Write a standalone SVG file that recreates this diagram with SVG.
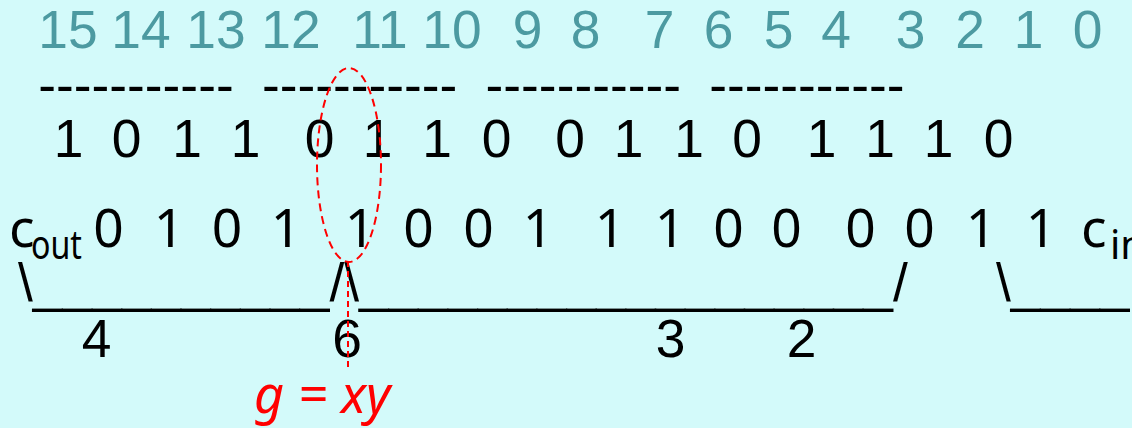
<svg xmlns="http://www.w3.org/2000/svg" width="1132" height="428" viewBox="0 0 1132 428">
<style>
.idx{font-family:"Liberation Sans",Arial,sans-serif;font-size:53.33px;fill:#4C9AA1;text-anchor:middle}
.ar{font-family:"Liberation Sans",Arial,sans-serif;font-size:53.33px;fill:#000}
.arm{font-family:"Liberation Sans",Arial,sans-serif;font-size:53.33px;fill:#000;text-anchor:middle}
.hs{font-family:"Noto Sans","Open Sans",sans-serif;font-size:53.33px;fill:#000;text-anchor:middle}
.hsl{font-family:"Noto Sans","Open Sans",sans-serif;font-size:53.33px;fill:#000}
.sub{font-family:"Noto Sans","Open Sans",sans-serif;font-size:40px;fill:#000}
.red{font-family:"Noto Sans","Open Sans",sans-serif;font-style:italic;font-size:52px;fill:#FF0000}
.rd{fill:none;stroke:#FF0000;stroke-width:2}
</style>
<rect width="1132" height="428" fill="#D3FAFA"/>
<g id="bit-indices">
<text class="idx" x="68" y="48">15</text>
<text class="idx" x="141" y="48">14</text>
<text class="idx" x="216" y="48">13</text>
<text class="idx" x="291" y="48">12</text>
<text class="idx" x="380" y="48">11</text>
<text class="idx" x="452" y="48">10</text>
<text class="idx" x="527.5" y="48">9</text>
<text class="idx" x="585.5" y="48">8</text>
<text class="idx" x="659.5" y="48">7</text>
<text class="idx" x="718.5" y="48">6</text>
<text class="idx" x="778.5" y="48">5</text>
<text class="idx" x="836" y="48">4</text>
<text class="idx" x="910.5" y="48">3</text>
<text class="idx" x="970" y="48">2</text>
<text class="idx" x="1028.5" y="48">1</text>
<text class="idx" x="1087.5" y="48">0</text>
</g>
<g id="dash-groups">
<text class="ar" x="38.3" y="103">-----------</text>
<text class="ar" x="262" y="103">-----------</text>
<text class="ar" x="485.6" y="103">-----------</text>
<text class="ar" x="709.2" y="103">-----------</text>
</g>
<g id="operand-x">
<text class="arm" x="68.5" y="157">1</text>
<text class="arm" x="126.5" y="157">0</text>
<text class="arm" x="187" y="157">1</text>
<text class="arm" x="245.5" y="157">1</text>
<text class="arm" x="319.5" y="157">0</text>
<text class="arm" x="377.5" y="157">1</text>
<text class="arm" x="437" y="157">1</text>
<text class="arm" x="496.5" y="157">0</text>
<text class="arm" x="570" y="157">0</text>
<text class="arm" x="628.5" y="157">1</text>
<text class="arm" x="689" y="157">1</text>
<text class="arm" x="747" y="157">0</text>
<text class="arm" x="821.5" y="157">1</text>
<text class="arm" x="880" y="157">1</text>
<text class="arm" x="938.5" y="157">1</text>
<text class="arm" x="998.5" y="157">0</text>
</g>
<g id="operand-y">
<text class="hsl" x="9" y="247">c</text>
<text class="sub" x="31" y="259" textLength="51" lengthAdjust="spacingAndGlyphs">out</text>
<text class="hs" x="108.5" y="247">0</text>
<text class="hs" x="169" y="247">1</text>
<text class="hs" x="227" y="247">0</text>
<text class="hs" x="286" y="247">1</text>
<text class="hs" x="360" y="247">1</text>
<text class="hs" x="418.5" y="247">0</text>
<text class="hs" x="478.5" y="247">0</text>
<text class="hs" x="538" y="247">1</text>
<text class="hs" x="610" y="247">1</text>
<text class="hs" x="670" y="247">1</text>
<text class="hs" x="728.5" y="247">0</text>
<text class="hs" x="786.5" y="247">0</text>
<text class="hs" x="860.5" y="247">0</text>
<text class="hs" x="919.5" y="247">0</text>
<text class="hs" x="981" y="247">1</text>
<text class="hs" x="1041" y="247">1</text>
<text class="hsl" x="1081" y="247">c</text>
<text class="sub" x="1110" y="259">in</text>
</g>
<g id="blocks">
<text class="ar" x="18" y="301">\__________/\__________________/</text>
<text class="ar" x="996" y="301">\____</text>
</g>
<g id="block-labels">
<text class="arm" x="96.5" y="357">4</text>
<text class="arm" x="347" y="357">6</text>
<text class="arm" x="670.5" y="357">3</text>
<text class="arm" x="801.5" y="357">2</text>
</g>
<g id="connectors">
<ellipse class="rd" cx="349" cy="165" rx="32" ry="97" stroke-dasharray="8 5"/>
<line class="rd" x1="348" y1="261" x2="348" y2="367" stroke-dasharray="6 4"/>
</g>
<g id="annotation">
<text class="red" x="254" y="413">g = xy</text>
</g>
</svg>
